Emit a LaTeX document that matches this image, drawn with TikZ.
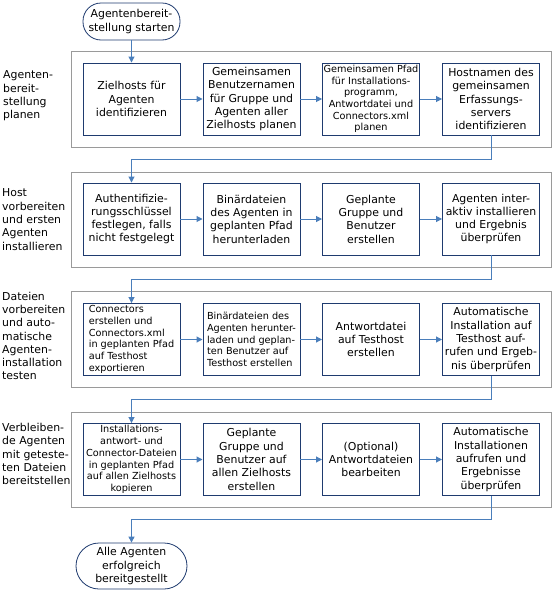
\documentclass[tikz,border=0pt]{standalone}
\usepackage{fontspec}
\setmainfont{DejaVu Sans}
\usetikzlibrary{arrows.meta}
\definecolor{navy}{HTML}{1F3B6F}
\definecolor{conn}{HTML}{4A7EBB}
\definecolor{grp}{HTML}{9A9A9A}
\begin{document}
\begin{tikzpicture}[x=1pt,y=-1pt,
  box/.style={draw=navy,fill=white,line width=0.95pt,minimum width=97pt,minimum height=72pt,inner sep=0pt,align=center,font=\fontsize{10.9}{13.3}\selectfont},
  smallbox/.style={box,font=\fontsize{9.7}{11.7}\selectfont},
  leftbox/.style={smallbox,align=left},
  term/.style={draw=navy,fill=white,line width=0.8pt,inner sep=0pt,align=center,font=\fontsize{10.9}{13.3}\selectfont},
  group/.style={draw=grp,line width=0.9pt,minimum width=480pt,inner sep=0pt},
  lbl/.style={anchor=west,align=left,inner sep=0pt,font=\fontsize{10.9}{13.3}\selectfont},
  arr/.style={draw=conn,line width=1pt,-{Triangle[length=6pt,width=6pt]}}
]
\useasboundingbox (0,0) rectangle (557,592);
% groups
\node[group,minimum height=96pt] (g1) at (311,99) {};
\node[group,minimum height=95pt] (g2) at (311,219.5) {};
\node[group,minimum height=96pt] (g3) at (311,339) {};
\node[group,minimum height=95pt] (g4) at (311,459.5) {};
% labels
\node[lbl] (l1) at (3,96) {Agenten-\\bereit-\\stellung\\planen};
\node[lbl] (l2) at (2,219.5) {Host\\vorbereiten\\und ersten\\Agenten\\installieren};
\node[lbl] (l3) at (2,336) {Dateien\\vorbereiten\\und auto-\\matische\\Agenten-\\installation\\testen};
\node[lbl] (l4) at (2,454) {Verbleiben-\\de Agenten\\mit geteste-\\ten Dateien\\bereitstellen};
% terminals
\node[term,minimum width=97pt,minimum height=37pt,rounded corners=18pt] (start) at (131.5,21.5) {Agentenbereit-\\stellung starten};
\node[term,minimum width=111pt,minimum height=46pt,rounded corners=23pt] (end) at (131.5,566) {Alle Agenten\\erfolgreich\\bereitgestellt};
% row 1
\node[box] (b11) at (131.5,99) {Zielhosts für\\Agenten\\identifizieren};
\node[box] (b12) at (251.5,99) {Gemeinsamen\\Benutzernamen\\für Gruppe und\\Agenten aller\\Zielhosts planen};
\node[smallbox] (b13) at (371,99) {Gemeinsamen Pfad\\für Installations-\\programm,\\Antwortdatei und\\Connectors.xml\\planen};
\node[box] (b14) at (491,99) {Hostnamen des\\gemeinsamen\\Erfassungs-\\servers\\identifizieren};
% row 2
\node[box] (b21) at (131.5,219) {Authentifizie-\\rungsschlüssel\\festlegen, falls\\nicht festgelegt};
\node[box] (b22) at (251.5,219) {Binärdateien\\des Agenten in\\geplanten Pfad\\herunterladen};
\node[box] (b23) at (371,219) {Geplante\\Gruppe und\\Benutzer\\erstellen};
\node[box] (b24) at (491,219) {Agenten inter-\\aktiv installieren\\und Ergebnis\\überprüfen};
% row 3
\node[leftbox] (b31) at (131.5,339.5) {Connectors\\erstellen und\\Connectors.xml\\in geplanten Pfad\\auf Testhost\\exportieren};
\node[leftbox] (b32) at (251.5,339.5) {Binärdateien des\\Agenten herunter-\\laden und geplan-\\ten Benutzer auf\\Testhost erstellen};
\node[box] (b33) at (371,339.5) {Antwortdatei\\auf Testhost\\erstellen};
\node[box] (b34) at (491,339.5) {Automatische\\Installation auf\\Testhost auf-\\rufen und Ergeb-\\nis überprüfen};
% row 4
\node[smallbox] (b41) at (131.5,459.5) {Installations-\\antwort- und\\Connector-Dateien\\in geplanten Pfad\\auf allen Zielhosts\\kopieren};
\node[box] (b42) at (251.5,459.5) {Geplante\\Gruppe und\\Benutzer auf\\allen Zielhosts\\erstellen};
\node[box] (b43) at (371,459.5) {(Optional)\\Antwortdateien\\bearbeiten};
\node[box] (b44) at (491,459.5) {Automatische\\Installationen\\aufrufen und\\Ergebnisse\\überprüfen};
% connectors
\draw[arr] (start) -- (b11);
\foreach \r in {1,2,3,4}{
  \draw[arr] (b\r1) -- (b\r2);
  \draw[arr] (b\r2) -- (b\r3);
  \draw[arr] (b\r3) -- (b\r4);
}
\draw[arr] (b14.south) -- ++(0,24.5) -| (b21.north);
\draw[arr] (b24.south) -- ++(0,24) -| (b31.north);
\draw[arr] (b34.south) -- ++(0,24) -| (b41.north);
\draw[arr] (b44.south) -- ++(0,23.5) -| (end.north);
\end{tikzpicture}
\end{document}
